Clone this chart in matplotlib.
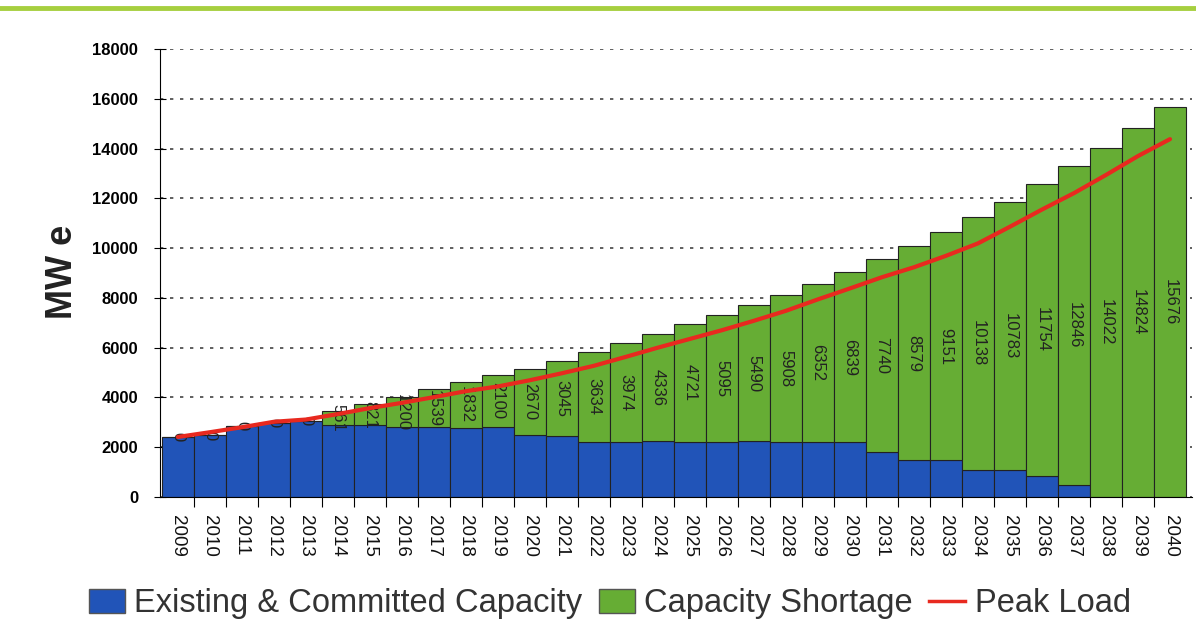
import numpy as np
import matplotlib
matplotlib.use("Agg")
import matplotlib.pyplot as plt
from matplotlib.patches import Patch
from matplotlib.lines import Line2D

plt.rcParams['font.family'] = ['Liberation Sans', 'DejaVu Sans']

years = list(range(2009, 2041))
# capacita' esistente e impegnata (MWe)
existing = [2410, 2480, 2870, 2980, 3050, 2910, 2900, 2810, 2800, 2780, 2810,
            2480, 2430, 2210, 2200, 2230, 2220, 2200, 2230, 2220, 2210, 2200,
            1820, 1490, 1480, 1100, 1090, 840, 470, 0, 0, 0]
# deficit di capacita' (etichette nelle barre)
shortage = [0, 0, 0, 0, 0, 561, 821, 1200, 1539, 1832, 2100, 2670, 3045, 3634,
            3974, 4336, 4721, 5095, 5490, 5908, 6352, 6839, 7740, 8579, 9151,
            10138, 10783, 11754, 12846, 14022, 14824, 15676]
# carico di picco
peak_load = [2410, 2600, 2800, 3020, 3110, 3330, 3570, 3780, 4010, 4250, 4440,
             4690, 4970, 5270, 5630, 6000, 6350, 6700, 7080, 7480, 7940, 8380,
             8830, 9230, 9690, 10190, 10860, 11550, 12210, 12940, 13700, 14380]

BLUE = '#2154b8'
GREEN = '#66ad34'
RED = '#e8291f'

fig = plt.figure(figsize=(11.96, 6.29), dpi=100)
ax = fig.add_axes([0.134, 0.21, 0.863, 0.712])

x = np.arange(len(years))
ax.bar(x, existing, width=1.0, color=BLUE, edgecolor='#222222', linewidth=0.8, zorder=2)
ax.bar(x, shortage, width=1.0, bottom=existing, color=GREEN, edgecolor='#222222',
       linewidth=0.8, zorder=2)
ax.plot(x, peak_load, color=RED, linewidth=3, zorder=4, solid_capstyle='round')

# etichette verticali al centro del tratto verde
for xi, e, s in zip(x, existing, shortage):
    ax.text(xi, e + s / 2, str(s), rotation=270, ha='center', va='center',
            fontsize=12, color='#222222', zorder=3)

ax.set_xlim(-0.55, 31.7)
ax.set_ylim(0, 18000)
ax.set_yticks(range(0, 18001, 2000))
ax.yaxis.grid(True, linestyle=(0, (2, 4)), color='#444444', linewidth=1.2, zorder=0)
ax.set_axisbelow(True)

ax.set_xticks(x)
ax.set_xticklabels([str(y) for y in years], rotation=270, fontsize=13.5, color='#111111')
ax.set_xticks(x[:-1] + 0.5, minor=True)
ax.tick_params(axis='x', which='major', length=0, pad=13)
ax.tick_params(axis='x', which='minor', length=7, direction='out', width=0.8)
ax.tick_params(axis='y', direction='inout', length=8, width=0.8, labelsize=12, pad=12)
for lbl in ax.get_yticklabels():
    lbl.set_fontweight('bold')

for side in ['top', 'right']:
    ax.spines[side].set_visible(False)
ax.spines['left'].set_linewidth(0.8)
ax.spines['bottom'].set_linewidth(0.8)

fig.text(0.052, 0.567, 'MW e', rotation=90, fontsize=26, fontweight='bold',
         ha='center', va='center', color='#222222')

# linea decorativa in alto
fig.add_artist(Line2D([0, 1], [0.987, 0.987], color='#a6cf3f', linewidth=3.5,
                      transform=fig.transFigure))

handles = [Patch(facecolor=BLUE, edgecolor='#555555', label='Existing & Committed Capacity'),
           Patch(facecolor=GREEN, edgecolor='#555555', label='Capacity Shortage'),
           Line2D([], [], color=RED, linewidth=2.5, label='Peak Load')]
fig.legend(handles=handles, loc='center', bbox_to_anchor=(0.51, 0.04), ncol=3,
           frameon=False, fontsize=23.5, handlelength=1.1, handleheight=0.75,
           handletextpad=0.3, columnspacing=0.5, labelcolor='#333333')

fig.savefig('out.png', dpi=100)
